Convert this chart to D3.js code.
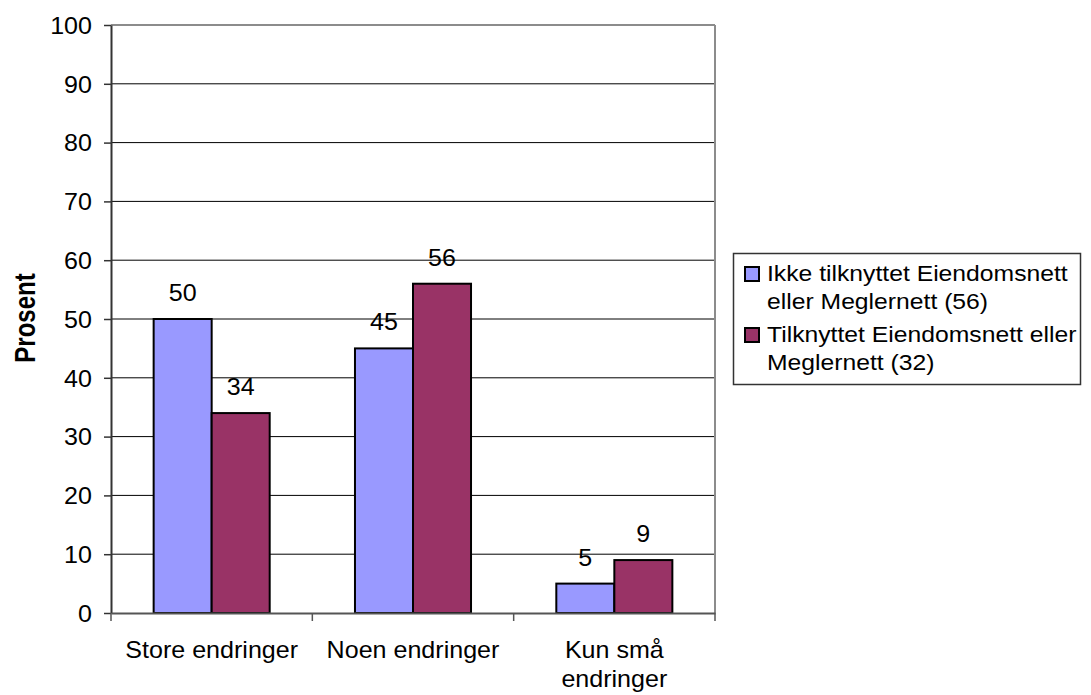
<!DOCTYPE html>
<html>
<head>
<meta charset="utf-8">
<script src="https://cdn.jsdelivr.net/npm/d3@7"></script>
<style>
  html, body { margin: 0; padding: 0; background: #fff; }
  svg { display: block; font-family: Arial, "Liberation Sans", sans-serif; }
</style>
</head>
<body>
<svg id="chart" width="1091" height="695"></svg>
<script>
// Survey shares (%) by amount of change, split by network affiliation
const categories = ["Store endringer", "Noen endringer", "Kun små endringer"];
const categoryLines = [["Store endringer"], ["Noen endringer"], ["Kun små", "endringer"]];
const seriesNames = ["Ikke tilknyttet Eiendomsnett eller Meglernett (56)", "Tilknyttet Eiendomsnett eller Meglernett (32)"];
const legendLines = [["Ikke tilknyttet Eiendomsnett", "eller Meglernett (56)"], ["Tilknyttet Eiendomsnett eller", "Meglernett (32)"]];
const notTied = [50, 45, 5];
const tied = [34, 56, 9];
const yTicks = [0, 10, 20, 30, 40, 50, 60, 70, 80, 90, 100];
const yTitle = "Prosent";

const colors = ["#9999FF", "#993366"];
const sx = 1.09;          // horizontal glyph stretch
const sxLegend = 1.075;
const fs = 23;

const svg = d3.select("#chart");
const plot = { left: 111, right: 715, top: 25, bottom: 613 };

const x = d3.scaleBand().domain(categories).range([plot.left, plot.right]).padding(0);
const xs = d3.scaleBand().domain([0, 1]).range([0, x.bandwidth()]).paddingInner(0).paddingOuter(0.735);
const y = d3.scaleLinear().domain([0, 100]).range([plot.bottom, plot.top]);

// gridlines
svg.append("g").selectAll("line").data(yTicks.filter(d => d > 0)).join("line")
  .attr("x1", plot.left).attr("x2", plot.right)
  .attr("y1", d => y(d)).attr("y2", d => y(d))
  .attr("stroke", d => d === 100 ? "#8c8c8c" : "#000")
  .attr("stroke-width", d => d === 100 ? 2 : 1);

// right frame
svg.append("line").attr("x1", plot.right).attr("x2", plot.right)
  .attr("y1", plot.top).attr("y2", plot.bottom)
  .attr("stroke", "#8c8c8c").attr("stroke-width", 2);

// bars
const series = [notTied, tied];
series.forEach((vals, si) => {
  svg.append("g").selectAll("rect").data(vals).join("rect")
    .attr("x", (d, i) => x(categories[i]) + xs(si))
    .attr("y", d => y(d))
    .attr("width", xs.bandwidth())
    .attr("height", d => y(0) - y(d))
    .attr("fill", colors[si])
    .attr("stroke", "#000").attr("stroke-width", 2);

  svg.append("g").selectAll("text").data(vals).join("text")
    .attr("transform", (d, i) => `translate(${x(categories[i]) + xs(si) + xs.bandwidth() / 2},${y(d) - 18}) scale(${sx},1)`)
    .attr("text-anchor", "middle")
    .attr("font-size", fs)
    .attr("fill", "#000")
    .text(d => d);
});

// y axis
const yAxis = d3.axisLeft(y).tickValues(yTicks).tickSize(7).tickSizeOuter(0).tickFormat(d3.format("d"));
const gy = svg.append("g").attr("transform", `translate(${plot.left},0)`).call(yAxis);
gy.select(".domain").attr("stroke", "#333").attr("stroke-width", 2);
gy.selectAll(".tick line").attr("stroke", "#333").attr("stroke-width", 1.5);
gy.selectAll(".tick text").remove();
gy.selectAll(".tick").append("text")
  .attr("transform", `translate(-19,8.2) scale(${sx},1)`)
  .attr("text-anchor", "end")
  .attr("font-size", fs)
  .attr("fill", "#000")
  .text(d => d);

// x axis
const xAxis = d3.axisBottom(x).tickSize(0).tickSizeOuter(0).tickFormat("");
const gx = svg.append("g").attr("transform", `translate(0,${plot.bottom})`).call(xAxis);
gx.select(".domain").attr("stroke", "#555").attr("stroke-width", 2);
// boundary ticks between categories
const bounds = categories.map(c => x(c)).concat([plot.right]);
gx.selectAll(".bound").data(bounds).join("line").attr("class", "bound")
  .attr("x1", d => d).attr("x2", d => d).attr("y1", 0).attr("y2", 8)
  .attr("stroke", "#555").attr("stroke-width", 1.5);

categories.forEach((c, i) => {
  categoryLines[i].forEach((ln, li) => {
    svg.append("text")
      .attr("transform", `translate(${x(c) + x.bandwidth() / 2},${658 + li * 29}) scale(${sx},1)`)
      .attr("text-anchor", "middle")
      .attr("font-size", fs)
      .attr("fill", "#000")
      .text(ln);
  });
});

// y title
svg.append("text")
  .attr("transform", `translate(35,318) scale(1.2,1) rotate(-90)`)
  .attr("text-anchor", "middle")
  .attr("font-size", 24)
  .attr("font-weight", "bold")
  .attr("fill", "#000")
  .text(yTitle);

// legend
const lg = svg.append("g");
lg.append("rect").attr("x", 733.5).attr("y", 253.5).attr("width", 347).attr("height", 131)
  .attr("fill", "#fff").attr("stroke", "#333").attr("stroke-width", 1.5);
const legendBase = [[281, 309], [342, 370]];
seriesNames.forEach((name, si) => {
  lg.append("rect")
    .attr("x", 745).attr("y", legendBase[si][0] - 14)
    .attr("width", 14).attr("height", 14)
    .attr("fill", colors[si]).attr("stroke", "#000").attr("stroke-width", 2);
  legendLines[si].forEach((ln, li) => {
    lg.append("text")
      .attr("transform", `translate(767,${legendBase[si][li]}) scale(${sxLegend},1)`)
      .attr("font-size", fs)
      .attr("fill", "#000")
      .text(ln);
  });
});
</script>
</body>
</html>
